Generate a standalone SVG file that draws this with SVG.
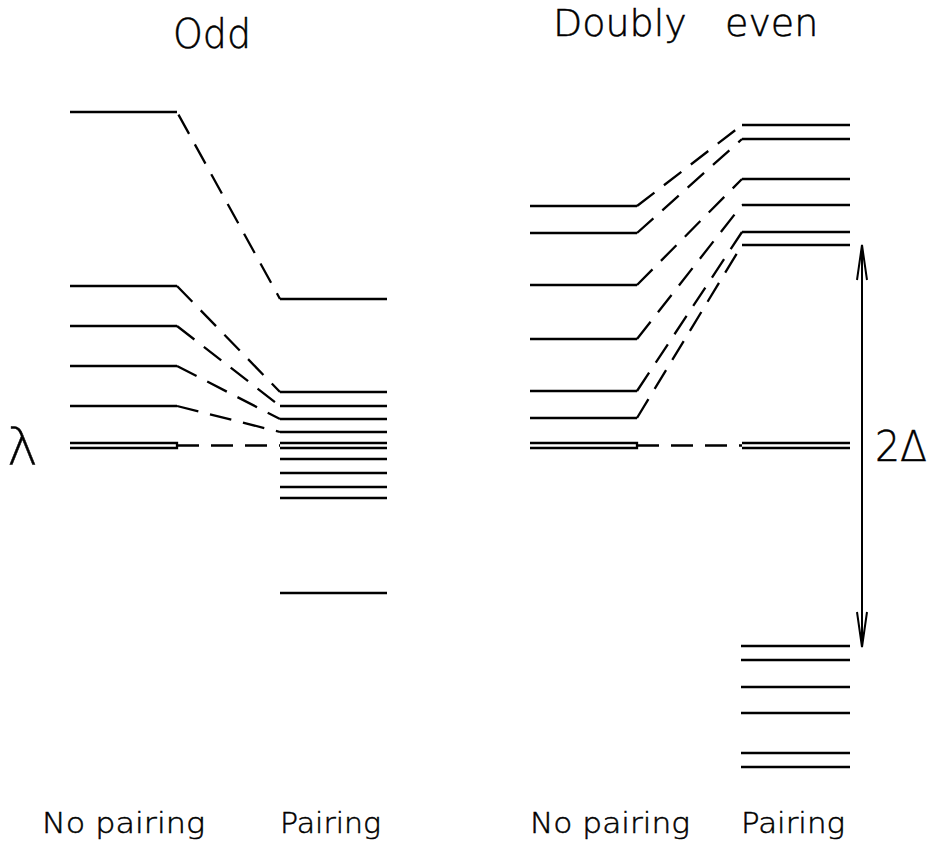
<svg xmlns="http://www.w3.org/2000/svg" width="933" height="846" viewBox="0 0 933 846">
<style>
.lv{stroke:#000;stroke-width:2.3;fill:none;stroke-linecap:butt}
.dl{stroke:#000;stroke-width:2.3;fill:none;stroke-dasharray:22 12}
.tx{font-family:"DejaVu Sans","Liberation Sans",sans-serif;fill:#000;font-weight:200;stroke:#000;stroke-width:0.5}
.ar{stroke:#000;stroke-width:2;fill:none}
</style>
<rect width="933" height="846" fill="#fff"/>
<!-- titles -->
<text class="tx" x="173" y="48" font-size="40" textLength="78" lengthAdjust="spacingAndGlyphs">Odd</text>
<text class="tx" x="553" y="36" font-size="38">Doubly <tspan x="725">even</tspan></text>
<text class="tx" x="7" y="465" font-size="52">λ</text>
<text class="tx" x="875" y="461" font-size="42" textLength="52" lengthAdjust="spacingAndGlyphs">2Δ</text>
<text class="tx" x="42" y="833" font-size="29" textLength="163" lengthAdjust="spacingAndGlyphs">No pairing</text>
<text class="tx" x="280" y="833" font-size="29" textLength="101" lengthAdjust="spacingAndGlyphs">Pairing</text>
<text class="tx" x="530" y="833" font-size="29" textLength="160" lengthAdjust="spacingAndGlyphs">No pairing</text>
<text class="tx" x="741" y="833" font-size="29" textLength="104" lengthAdjust="spacingAndGlyphs">Pairing</text>

<!-- Odd, no pairing -->
<g id="odd-np-1"><line class="lv" x1="70" y1="112" x2="177" y2="112"/></g>
<g id="odd-np-2"><line class="lv" x1="70" y1="286" x2="177" y2="286"/></g>
<g id="odd-np-3"><line class="lv" x1="70" y1="326" x2="177" y2="326"/></g>
<g id="odd-np-4"><line class="lv" x1="70" y1="366" x2="177" y2="366"/></g>
<g id="odd-np-5"><line class="lv" x1="70" y1="406" x2="177" y2="406"/></g>
<g id="odd-np-lambda"><path class="lv" d="M70 443H177V448H70"/></g>
<!-- Odd, pairing -->
<g id="odd-p-1"><line class="lv" x1="280" y1="299" x2="387" y2="299"/></g>
<g id="odd-p-2"><line class="lv" x1="280" y1="392" x2="387" y2="392"/></g>
<g id="odd-p-3"><line class="lv" x1="280" y1="406" x2="387" y2="406"/></g>
<g id="odd-p-4"><line class="lv" x1="280" y1="419" x2="387" y2="419"/></g>
<g id="odd-p-5"><line class="lv" x1="280" y1="432" x2="387" y2="432"/></g>
<g id="odd-p-6"><line class="lv" x1="280" y1="443" x2="387" y2="443"/></g>
<g id="odd-p-7"><line class="lv" x1="280" y1="448" x2="387" y2="448"/></g>
<g id="odd-p-8"><line class="lv" x1="280" y1="459" x2="387" y2="459"/></g>
<g id="odd-p-9"><line class="lv" x1="280" y1="473" x2="387" y2="473"/></g>
<g id="odd-p-10"><line class="lv" x1="280" y1="487" x2="387" y2="487"/></g>
<g id="odd-p-11"><line class="lv" x1="280" y1="498" x2="387" y2="498"/></g>
<g id="odd-p-12"><line class="lv" x1="280" y1="593" x2="387" y2="593"/></g>

<!-- Doubly even, no pairing -->
<g id="ev-np-1"><line class="lv" x1="530" y1="206" x2="637" y2="206"/></g>
<g id="ev-np-2"><line class="lv" x1="530" y1="233" x2="637" y2="233"/></g>
<g id="ev-np-3"><line class="lv" x1="530" y1="285" x2="637" y2="285"/></g>
<g id="ev-np-4"><line class="lv" x1="530" y1="339" x2="637" y2="339"/></g>
<g id="ev-np-5"><line class="lv" x1="530" y1="391" x2="637" y2="391"/></g>
<g id="ev-np-6"><line class="lv" x1="530" y1="418" x2="637" y2="418"/></g>
<g id="ev-np-lambda"><path class="lv" d="M530 443H637V448H530"/></g>
<!-- Doubly even, pairing -->
<g id="ev-p-1"><line class="lv" x1="742" y1="125" x2="850" y2="125"/></g>
<g id="ev-p-2"><line class="lv" x1="742" y1="139" x2="850" y2="139"/></g>
<g id="ev-p-3"><line class="lv" x1="742" y1="179" x2="850" y2="179"/></g>
<g id="ev-p-4"><line class="lv" x1="742" y1="205" x2="850" y2="205"/></g>
<g id="ev-p-5"><line class="lv" x1="742" y1="232" x2="850" y2="232"/></g>
<g id="ev-p-6"><line class="lv" x1="742" y1="245" x2="850" y2="245"/></g>
<g id="ev-p-7"><line class="lv" x1="742" y1="443" x2="850" y2="443"/></g>
<g id="ev-p-8"><line class="lv" x1="742" y1="448" x2="850" y2="448"/></g>
<g id="ev-p-9"><line class="lv" x1="741" y1="646" x2="850" y2="646"/></g>
<g id="ev-p-10"><line class="lv" x1="741" y1="660" x2="850" y2="660"/></g>
<g id="ev-p-11"><line class="lv" x1="741" y1="687" x2="850" y2="687"/></g>
<g id="ev-p-12"><line class="lv" x1="741" y1="713" x2="850" y2="713"/></g>
<g id="ev-p-13"><line class="lv" x1="741" y1="753" x2="850" y2="753"/></g>
<g id="ev-p-14"><line class="lv" x1="741" y1="767" x2="850" y2="767"/></g>

<!-- connectors -->
<g id="connectors">
<path class="dl" d="M177 112L280 299" stroke-dashoffset="-3"/>
<path class="dl" d="M177 286L280 392"/>
<path class="dl" d="M177 326L280 406"/>
<path class="dl" d="M177 366L280 419"/>
<path class="dl" d="M177 406L280 432"/>
<path class="dl" d="M177 445.5L280 445.5"/>
<path class="dl" d="M637 206L742 125"/>
<path class="dl" d="M637 233L742 139"/>
<path class="dl" d="M637 285L742 179"/>
<path class="dl" d="M637 339L742 205"/>
<path class="dl" d="M637 391L742 232"/>
<path class="dl" d="M637 418L742 245"/>
<path class="dl" d="M637 445.5L742 445.5"/>
<g id="gap-arrow">
<line class="ar" x1="862" y1="246" x2="862" y2="646"/>
<path class="ar" d="M857 280L862 245L867 280"/>
<path class="ar" d="M857 612L862 647L867 612"/>
</g>
</g>
</svg>
